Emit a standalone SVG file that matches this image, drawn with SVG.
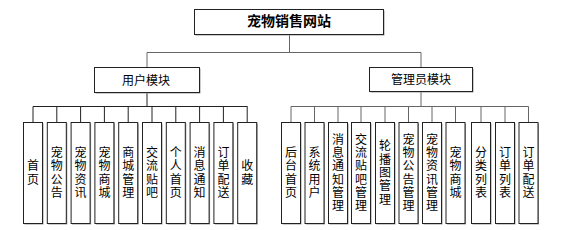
<svg xmlns="http://www.w3.org/2000/svg" width="563" height="230" viewBox="0 0 563 230">
<style>
.box{fill:#fff;stroke:#222;stroke-width:1}
.sh{fill:#999}
.ln{stroke:#222;stroke-width:1;fill:none}
.lg{stroke:#666;stroke-width:1;fill:none}
text{font-family:"Noto Sans CJK SC","Microsoft YaHei",sans-serif;fill:#000}
.t0{font-size:14px;font-weight:bold;text-anchor:middle}
.t1{font-size:12px;text-anchor:middle}
.v{font-size:12px;text-anchor:middle;writing-mode:vertical-rl;letter-spacing:1.3px}
</style>
<rect width="563" height="230" fill="#fff"/>
<g id="connectors">
<path class="lg" d="M289.5 34V52.5M147 52.5H421M147 52.5V67M421 52.5V67"/>
<path class="ln" d="M147 92V106.5M33 106.5H247.5M33 106.5V122M56.8 106.5V122M80.6 106.5V122M104.4 106.5V122M128.2 106.5V122M152 106.5V122M175.8 106.5V122M199.6 106.5V122M223.4 106.5V122M247.2 106.5V122"/>
<path class="lg" d="M421 91V106.5M291 106.5H528.5M291 106.5V122M314.5 106.5V122M338 106.5V122M361 106.5V122M385 106.5V122M408.5 106.5V122M432 106.5V122M455.5 106.5V122M481 106.5V122M505 106.5V122M528.5 106.5V122"/>
</g>
<g id="root"><rect class="sh" x="195.5" y="10.5" width="189" height="25"/><rect class="box" x="194.5" y="9.5" width="189" height="25"/><text class="t0" x="289" y="26">宠物销售网站</text></g>
<g id="user"><rect class="sh" x="95.5" y="68.5" width="105" height="25"/><rect class="box" x="94.5" y="67.5" width="105" height="25"/><text class="t1" x="146" y="84.5">用户模块</text></g>
<g id="admin"><rect class="sh" x="370.5" y="68.5" width="103" height="24"/><rect class="box" x="369.5" y="67.5" width="103" height="24"/><text class="t1" x="421" y="84">管理员模块</text></g>

<g id="u1"><rect class="sh" x="24.5" y="123.5" width="19" height="101"/><rect class="box" x="23.5" y="122.5" width="19" height="101"/><text class="v" x="33" y="173">首页</text></g>
<g id="u2"><rect class="sh" x="48.3" y="123.5" width="19" height="101"/><rect class="box" x="47.3" y="122.5" width="19" height="101"/><text class="v" x="56.8" y="173">宠物公告</text></g>
<g id="u3"><rect class="sh" x="72.1" y="123.5" width="19" height="101"/><rect class="box" x="71.1" y="122.5" width="19" height="101"/><text class="v" x="80.6" y="173">宠物资讯</text></g>
<g id="u4"><rect class="sh" x="95.9" y="123.5" width="19" height="101"/><rect class="box" x="94.9" y="122.5" width="19" height="101"/><text class="v" x="104.4" y="173">宠物商城</text></g>
<g id="u5"><rect class="sh" x="119.7" y="123.5" width="19" height="101"/><rect class="box" x="118.7" y="122.5" width="19" height="101"/><text class="v" x="128.2" y="173">商城管理</text></g>
<g id="u6"><rect class="sh" x="143.5" y="123.5" width="19" height="101"/><rect class="box" x="142.5" y="122.5" width="19" height="101"/><text class="v" x="152" y="173">交流贴吧</text></g>
<g id="u7"><rect class="sh" x="167.3" y="123.5" width="19" height="101"/><rect class="box" x="166.3" y="122.5" width="19" height="101"/><text class="v" x="175.8" y="173">个人首页</text></g>
<g id="u8"><rect class="sh" x="191.1" y="123.5" width="19" height="101"/><rect class="box" x="190.1" y="122.5" width="19" height="101"/><text class="v" x="199.6" y="173">消息通知</text></g>
<g id="u9"><rect class="sh" x="214.9" y="123.5" width="19" height="101"/><rect class="box" x="213.9" y="122.5" width="19" height="101"/><text class="v" x="223.4" y="173">订单配送</text></g>
<g id="u10"><rect class="sh" x="238.7" y="123.5" width="19" height="101"/><rect class="box" x="237.7" y="122.5" width="19" height="101"/><text class="v" x="247.2" y="173">收藏</text></g>

<g id="a1"><rect class="sh" x="282.5" y="123.5" width="19" height="101"/><rect class="box" x="281.5" y="122.5" width="19" height="101"/><text class="v" x="291" y="173">后台首页</text></g>
<g id="a2"><rect class="sh" x="306" y="123.5" width="19" height="101"/><rect class="box" x="305" y="122.5" width="19" height="101"/><text class="v" x="314.5" y="173">系统用户</text></g>
<g id="a3"><rect class="sh" x="329.5" y="123.5" width="19" height="101"/><rect class="box" x="328.5" y="122.5" width="19" height="101"/><text class="v" x="338" y="173">消息通知管理</text></g>
<g id="a4"><rect class="sh" x="352.5" y="123.5" width="19" height="101"/><rect class="box" x="351.5" y="122.5" width="19" height="101"/><text class="v" x="361" y="173">交流贴吧管理</text></g>
<g id="a5"><rect class="sh" x="376.5" y="123.5" width="19" height="101"/><rect class="box" x="375.5" y="122.5" width="19" height="101"/><text class="v" x="385" y="173">轮播图管理</text></g>
<g id="a6"><rect class="sh" x="400" y="123.5" width="19" height="101"/><rect class="box" x="399" y="122.5" width="19" height="101"/><text class="v" x="408.5" y="173">宠物公告管理</text></g>
<g id="a7"><rect class="sh" x="423.5" y="123.5" width="19" height="101"/><rect class="box" x="422.5" y="122.5" width="19" height="101"/><text class="v" x="432" y="173">宠物资讯管理</text></g>
<g id="a8"><rect class="sh" x="447" y="123.5" width="19" height="101"/><rect class="box" x="446" y="122.5" width="19" height="101"/><text class="v" x="455.5" y="173">宠物商城</text></g>
<g id="a9"><rect class="sh" x="472.5" y="123.5" width="19" height="101"/><rect class="box" x="471.5" y="122.5" width="19" height="101"/><text class="v" x="481" y="173">分类列表</text></g>
<g id="a10"><rect class="sh" x="496.5" y="123.5" width="19" height="101"/><rect class="box" x="495.5" y="122.5" width="19" height="101"/><text class="v" x="505" y="173">订单列表</text></g>
<g id="a11"><rect class="sh" x="520" y="123.5" width="19" height="101"/><rect class="box" x="519" y="122.5" width="19" height="101"/><text class="v" x="528.5" y="173">订单配送</text></g>
</svg>
